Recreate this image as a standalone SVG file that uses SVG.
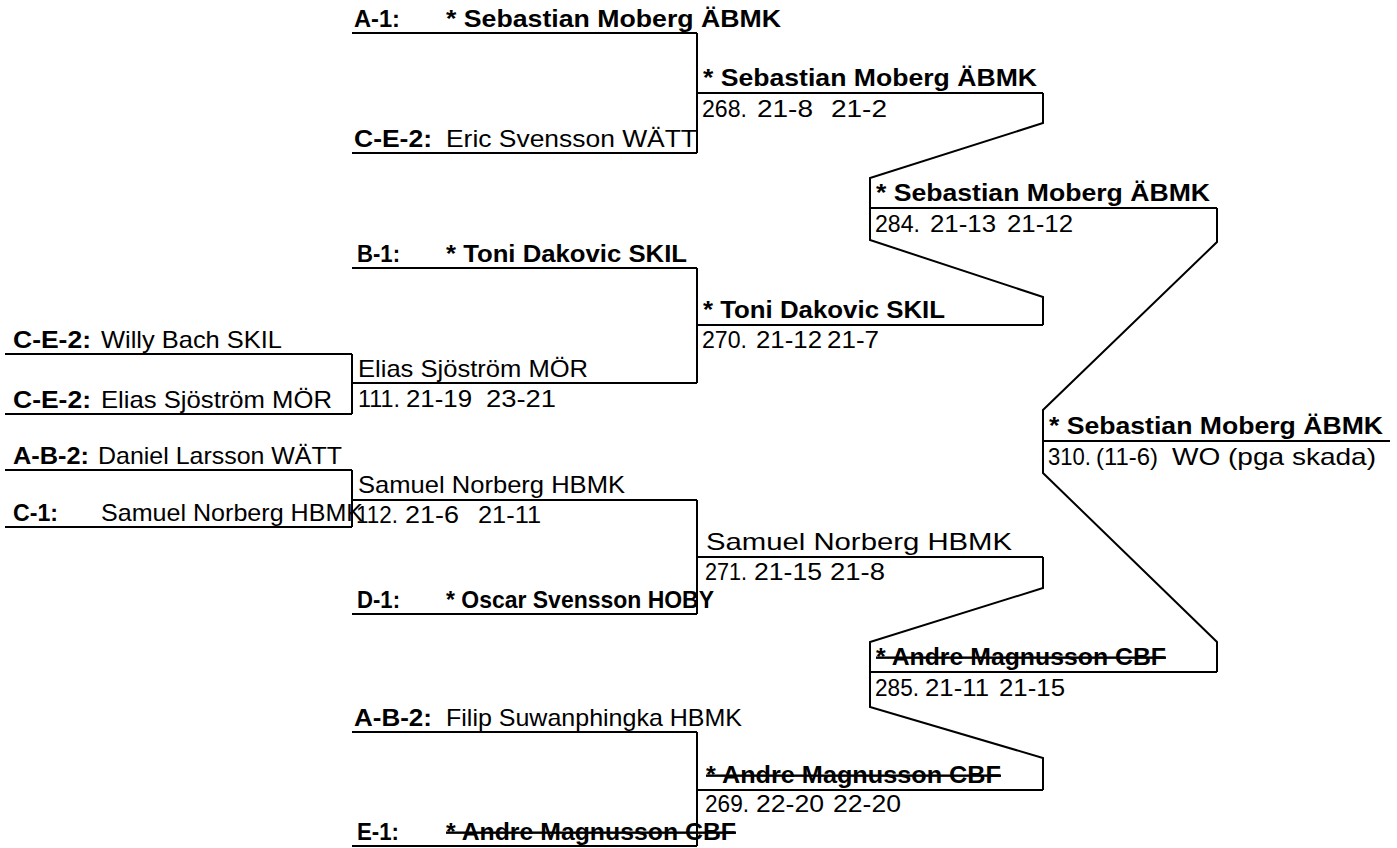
<svg xmlns="http://www.w3.org/2000/svg" width="1397" height="848" viewBox="0 0 1397 848">
<style>
text{font-family:"Liberation Sans",Arial,sans-serif;font-size:24px;fill:#000}
.b{font-weight:bold}
.s{text-decoration:line-through}
.ln{stroke:#000;stroke-width:2;fill:none}
</style>
<rect width="1397" height="848" fill="#fff"/>
<g id="connectors" class="ln">
<path d="M352,354V414"/>
<path d="M352,470V527"/>
<path d="M697,33V153"/>
<path d="M697,268V383"/>
<path d="M697,500V614"/>
<path d="M697,732V846"/>
<path d="M1043,93V123L870,178V240L1043,297V325"/>
<path d="M1043,557V588L870,642V707L1043,758V790"/>
<path d="M1217,208V242L1043,410V473L1217,642V672"/>
</g>
<g id="e-willy"><path class="ln" d="M5,354H352"/><text x="13" y="348" class="b" textLength="78" lengthAdjust="spacingAndGlyphs">C-E-2:</text><text x="101" y="348" textLength="181" lengthAdjust="spacingAndGlyphs">Willy Bach SKIL</text></g>
<g id="e-elias"><path class="ln" d="M5,414H352"/><text x="13" y="408" class="b" textLength="78" lengthAdjust="spacingAndGlyphs">C-E-2:</text><text x="101" y="408" textLength="231" lengthAdjust="spacingAndGlyphs">Elias Sjöström MÖR</text></g>
<g id="e-daniel"><path class="ln" d="M5,470H352"/><text x="13" y="464" class="b" textLength="76" lengthAdjust="spacingAndGlyphs">A-B-2:</text><text x="98" y="464" textLength="244" lengthAdjust="spacingAndGlyphs">Daniel Larsson WÄTT</text></g>
<g id="e-samuel"><path class="ln" d="M5,527H352"/><text x="13" y="521" class="b" textLength="45" lengthAdjust="spacingAndGlyphs">C-1:</text><text x="101" y="521" textLength="262" lengthAdjust="spacingAndGlyphs">Samuel Norberg HBMK</text></g>
<g id="e-a1"><path class="ln" d="M352,33H697"/><text x="354" y="27" class="b" textLength="46" lengthAdjust="spacingAndGlyphs">A-1:</text><text x="446" y="27" class="b" textLength="335" lengthAdjust="spacingAndGlyphs">* Sebastian Moberg ÄBMK</text></g>
<g id="e-eric"><path class="ln" d="M352,153H697"/><text x="354" y="147" class="b" textLength="78" lengthAdjust="spacingAndGlyphs">C-E-2:</text><text x="446" y="147" textLength="251" lengthAdjust="spacingAndGlyphs">Eric Svensson WÄTT</text></g>
<g id="e-b1"><path class="ln" d="M352,268H697"/><text x="357" y="262" class="b" textLength="43" lengthAdjust="spacingAndGlyphs">B-1:</text><text x="446" y="262" class="b" textLength="241" lengthAdjust="spacingAndGlyphs">* Toni Dakovic SKIL</text></g>
<g id="m111"><path class="ln" d="M352,383H697"/><text x="358" y="377" textLength="230" lengthAdjust="spacingAndGlyphs">Elias Sjöström MÖR</text><text x="358" y="407" textLength="42" lengthAdjust="spacingAndGlyphs">111.</text><text x="406" y="407" textLength="66" lengthAdjust="spacingAndGlyphs">21-19</text><text x="486" y="407" textLength="70" lengthAdjust="spacingAndGlyphs">23-21</text></g>
<g id="m112"><path class="ln" d="M352,500H697"/><text x="358" y="493" textLength="267" lengthAdjust="spacingAndGlyphs">Samuel Norberg HBMK</text><text x="356" y="523" textLength="42" lengthAdjust="spacingAndGlyphs">112.</text><text x="405" y="523" textLength="54" lengthAdjust="spacingAndGlyphs">21-6</text><text x="478" y="523" textLength="63" lengthAdjust="spacingAndGlyphs">21-11</text></g>
<g id="e-d1"><path class="ln" d="M352,614H697"/><text x="357" y="608" class="b" textLength="43" lengthAdjust="spacingAndGlyphs">D-1:</text><text x="446" y="608" class="b" textLength="268" lengthAdjust="spacingAndGlyphs">* Oscar Svensson HOBY</text></g>
<g id="e-filip"><path class="ln" d="M352,732H697"/><text x="354" y="726" class="b" textLength="78" lengthAdjust="spacingAndGlyphs">A-B-2:</text><text x="446" y="726" textLength="296" lengthAdjust="spacingAndGlyphs">Filip Suwanphingka HBMK</text></g>
<g id="e-e1"><path class="ln" d="M352,846H697"/><text x="357" y="840" class="b" textLength="42" lengthAdjust="spacingAndGlyphs">E-1:</text><text x="446" y="840" class="b s" textLength="290" lengthAdjust="spacingAndGlyphs">* Andre Magnusson CBF</text></g>
<g id="m268"><path class="ln" d="M697,93H1043"/><text x="703" y="86" class="b" textLength="334" lengthAdjust="spacingAndGlyphs">* Sebastian Moberg ÄBMK</text><text x="702" y="117" textLength="45" lengthAdjust="spacingAndGlyphs">268.</text><text x="757" y="117" textLength="56" lengthAdjust="spacingAndGlyphs">21-8</text><text x="831" y="117" textLength="56" lengthAdjust="spacingAndGlyphs">21-2</text></g>
<g id="m270"><path class="ln" d="M697,325H1043"/><text x="703" y="318" class="b" textLength="242" lengthAdjust="spacingAndGlyphs">* Toni Dakovic SKIL</text><text x="702" y="348" textLength="45" lengthAdjust="spacingAndGlyphs">270.</text><text x="756" y="348" textLength="66" lengthAdjust="spacingAndGlyphs">21-12</text><text x="827" y="348" textLength="52" lengthAdjust="spacingAndGlyphs">21-7</text></g>
<g id="m271"><path class="ln" d="M697,557H1043"/><text x="706" y="550" textLength="306" lengthAdjust="spacingAndGlyphs">Samuel Norberg HBMK</text><text x="705" y="580" textLength="42" lengthAdjust="spacingAndGlyphs">271.</text><text x="754" y="580" textLength="68" lengthAdjust="spacingAndGlyphs">21-15</text><text x="830" y="580" textLength="55" lengthAdjust="spacingAndGlyphs">21-8</text></g>
<g id="m269"><path class="ln" d="M697,790H1043"/><text x="706" y="783" class="b s" textLength="295" lengthAdjust="spacingAndGlyphs">* Andre Magnusson CBF</text><text x="705" y="812" textLength="44" lengthAdjust="spacingAndGlyphs">269.</text><text x="756" y="812" textLength="68" lengthAdjust="spacingAndGlyphs">22-20</text><text x="833" y="812" textLength="68" lengthAdjust="spacingAndGlyphs">22-20</text></g>
<g id="m284"><path class="ln" d="M870,208H1217"/><text x="876" y="201" class="b" textLength="334" lengthAdjust="spacingAndGlyphs">* Sebastian Moberg ÄBMK</text><text x="875" y="232" textLength="45" lengthAdjust="spacingAndGlyphs">284.</text><text x="930" y="232" textLength="66" lengthAdjust="spacingAndGlyphs">21-13</text><text x="1007" y="232" textLength="66" lengthAdjust="spacingAndGlyphs">21-12</text></g>
<g id="m285"><path class="ln" d="M870,672H1217"/><text x="876" y="665" class="b s" textLength="290" lengthAdjust="spacingAndGlyphs">* Andre Magnusson CBF</text><text x="875" y="696" textLength="44" lengthAdjust="spacingAndGlyphs">285.</text><text x="925" y="696" textLength="64" lengthAdjust="spacingAndGlyphs">21-11</text><text x="999" y="696" textLength="66" lengthAdjust="spacingAndGlyphs">21-15</text></g>
<g id="m310"><path class="ln" d="M1043,441H1390"/><text x="1049" y="434" class="b" textLength="334" lengthAdjust="spacingAndGlyphs">* Sebastian Moberg ÄBMK</text><text x="1048" y="465" textLength="43" lengthAdjust="spacingAndGlyphs">310.</text><text x="1096" y="465" textLength="62" lengthAdjust="spacingAndGlyphs">(11-6)</text><text x="1172" y="465" textLength="204" lengthAdjust="spacingAndGlyphs">WO (pga skada)</text></g>
</svg>
